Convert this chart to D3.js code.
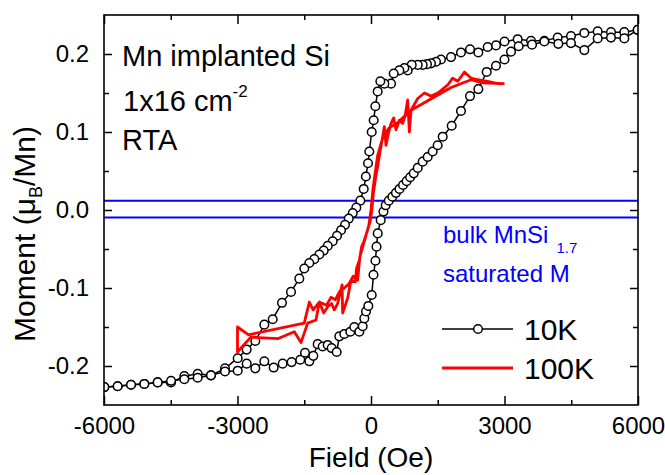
<!DOCTYPE html>
<html><head><meta charset="utf-8">
<script src="https://cdn.jsdelivr.net/npm/d3@7"></script>
<style>body{margin:0;background:#fff} text{font-family:"Liberation Sans",Arial,sans-serif}</style>
</head><body><svg id="c" width="665" height="475"></svg>
<script>
// ---- axis ticks ----
const xTickValues = [-6000, -3000, 0, 3000, 6000];
const xTickLabels = ["-6000", "-3000", "0", "3000", "6000"];
const xMinorTicks = [-4500, -1500, 1500, 4500];
const yTickValues = [-0.2, -0.1, 0, 0.1, 0.2];
const yTickLabels = ["-0.2", "-0.1", "0.0", "0.1", "0.2"];
const yMinorTicks = [-0.15, -0.05, 0.05, 0.15];

// ---- 10K loop: descending branch (field decreasing) ----
const h10Down = [5993,5693,5393,5094,4794,4494,4195,3895,3596,3296,3000,2809,2622,2412,2225,2022,1798,1573,1461,1348,1258,1161,1050,915,824,750,637,510,450,300,210,150,98,60,16,-38,-67,-115,-164,-240,-330,-410,-500,-584,-674,-764,-861,-973,-1063,-1162,-1274,-1387,-1499,-1611,-1798,-2000,-2209,-2397,-2600,-2794,-2996,-3281,-3596,-3895,-4195,-4494,-4794,-5094,-5393,-5693,-5993];
const m10Down = [0.231,0.228,0.228,0.229,0.227,0.223,0.221,0.217,0.217,0.219,0.216,0.211,0.209,0.202,0.206,0.202,0.196,0.193,0.190,0.188,0.187,0.186,0.186,0.186,0.179,0.182,0.179,0.175,0.162,0.162,0.165,0.152,0.133,0.115,0.100,0.075,0.060,0.043,0.027,0.012,0.003,-0.004,-0.011,-0.019,-0.026,-0.033,-0.040,-0.046,-0.052,-0.057,-0.063,-0.068,-0.075,-0.088,-0.105,-0.119,-0.140,-0.147,-0.168,-0.179,-0.190,-0.203,-0.212,-0.210,-0.213,-0.221,-0.221,-0.223,-0.224,-0.226,-0.227];

// ---- 10K loop: ascending branch (field increasing) ----
const h10Up = [-5993,-5693,-5393,-5094,-4794,-4494,-4195,-3895,-3596,-3281,-2996,-2794,-2600,-2397,-2187,-1985,-1784,-1589,-1483,-1386,-1296,-1198,-1086,-973,-884,-771,-712,-600,-465,-375,-262,-187,-150,-112,-60,16,56,100,124,151,218,280,330,400,480,560,640,720,800,880,960,1050,1161,1273,1386,1498,1611,1813,2022,2225,2412,2600,2809,3000,3146,3318,3618,3895,4210,4494,4794,5094,5393,5693,5993];
const m10Up = [-0.227,-0.226,-0.224,-0.223,-0.221,-0.219,-0.217,-0.215,-0.212,-0.207,-0.206,-0.197,-0.203,-0.194,-0.202,-0.197,-0.195,-0.192,-0.183,-0.194,-0.187,-0.172,-0.175,-0.173,-0.177,-0.182,-0.162,-0.159,-0.156,-0.150,-0.156,-0.149,-0.139,-0.130,-0.123,-0.109,-0.083,-0.065,-0.047,-0.030,-0.013,-0.002,0.006,0.012,0.017,0.022,0.027,0.032,0.037,0.042,0.047,0.054,0.062,0.068,0.075,0.083,0.094,0.108,0.127,0.146,0.155,0.177,0.185,0.193,0.203,0.210,0.212,0.216,0.213,0.214,0.205,0.220,0.221,0.220,0.231];

// ---- 100K curve (single trace) ----
const h100 = [3000,2850,2620,2400,2250,2100,1950,1835,1720,1500,1350,1200,1050,900,862,824,764,712,637,562,510,450,390,337,300,263,210,150,100,50,20,-20,-100,-164,-211,-259,-326,-353,-450,-524,-637,-650,-750,-824,-884,-973,-1063,-1161,-1236,-1423,-1573,-1723,-2097,-2700,-3000,-3000,-2750,-1500,-1386,-1300,-1161,-1000,-900,-800,-700,-600,-500,-400,-300,-250,-150,-50,0,50,150,250,400,600,899,1800,2250,2500,3000];
const m100 = [0.162,0.162,0.165,0.167,0.169,0.177,0.165,0.169,0.160,0.150,0.146,0.150,0.143,0.128,0.100,0.141,0.120,0.111,0.115,0.103,0.118,0.111,0.098,0.083,0.107,0.094,0.077,0.056,0.040,0.020,0.000,-0.015,-0.030,-0.041,-0.047,-0.064,-0.075,-0.092,-0.090,-0.113,-0.132,-0.096,-0.120,-0.128,-0.120,-0.124,-0.132,-0.118,-0.141,-0.145,-0.170,-0.156,-0.165,-0.163,-0.182,-0.150,-0.160,-0.145,-0.118,-0.128,-0.118,-0.122,-0.112,-0.115,-0.104,-0.100,-0.095,-0.085,-0.090,-0.060,-0.040,-0.020,0.000,0.030,0.070,0.090,0.105,0.112,0.128,0.157,0.167,0.163,0.162];

// ---- reference lines (bulk MnSi1.7 saturated M) ----
const refLines = [0.012, -0.0095];

// ---- legend ----
const legendLabels = ["10K", "100K"];

const svg = d3.select("#c");
const L = 104, R = 638, T = 15, B = 405;
const x = d3.scaleLinear().domain([-6000, 6000]).range([L, R]);
const y = d3.scaleLinear().domain([-0.25, 0.25]).range([B, T]);

svg.append("defs").append("clipPath").attr("id", "clip")
  .append("rect").attr("x", L).attr("y", T).attr("width", R - L).attr("height", B - T);

const plot = svg.append("g").attr("clip-path", "url(#clip)");

// blue reference lines
plot.selectAll("line.ref").data(refLines).enter().append("line")
  .attr("x1", L).attr("x2", R).attr("y1", d => y(d)).attr("y2", d => y(d))
  .attr("stroke", "#0000ff").attr("stroke-width", 2);

// 10K
const line = d3.line().x(d => x(d[0])).y(d => y(d[1]));
const down = h10Down.map((h, i) => [h, m10Down[i]]);
const up = h10Up.map((h, i) => [h, m10Up[i]]);
[down, up].forEach(br => {
  plot.append("path").datum(br).attr("d", line).attr("fill", "none")
    .attr("stroke", "#000").attr("stroke-width", 1.5);
});
[down, up].forEach(br => {
  plot.selectAll(null).data(br).enter().append("circle")
    .attr("cx", d => x(d[0])).attr("cy", d => y(d[1])).attr("r", 4.3)
    .attr("fill", "#fff").attr("stroke", "#000").attr("stroke-width", 1.5);
});

// 100K
const red = h100.map((h, i) => [h, m100[i]]);
plot.append("path").datum(red).attr("d", line).attr("fill", "none")
  .attr("stroke", "#ff0000").attr("stroke-width", 2.8).attr("stroke-linejoin", "round");

// frame
svg.append("rect").attr("x", L).attr("y", T).attr("width", R - L).attr("height", B - T)
  .attr("fill", "none").attr("stroke", "#000").attr("stroke-width", 1.6);

// axes
function styleAxis(g) {
  g.select(".domain").remove();
  g.selectAll(".tick line").attr("stroke", "#000").attr("stroke-width", 1.5);
  g.selectAll("text").attr("fill", "#000").style("font-size", "24px")
    .style("font-family", "'Liberation Sans', Arial, sans-serif");
}
svg.append("g").attr("transform", `translate(0,${B})`)
  .call(d3.axisBottom(x).tickValues(xTickValues).tickSize(-9).tickSizeOuter(0).tickPadding(12)
    .tickFormat((d, i) => xTickLabels[i])).call(styleAxis);
svg.append("g").attr("transform", `translate(0,${B})`)
  .call(d3.axisBottom(x).tickValues(xMinorTicks).tickSize(-5).tickSizeOuter(0).tickFormat("")).call(styleAxis);
svg.append("g").attr("transform", `translate(0,${T})`)
  .call(d3.axisTop(x).tickValues(xTickValues).tickSize(-9).tickSizeOuter(0).tickFormat("")).call(styleAxis);
svg.append("g").attr("transform", `translate(0,${T})`)
  .call(d3.axisTop(x).tickValues(xMinorTicks).tickSize(-5).tickSizeOuter(0).tickFormat("")).call(styleAxis);
svg.append("g").attr("transform", `translate(${L},0)`)
  .call(d3.axisLeft(y).tickValues(yTickValues).tickSize(-8).tickSizeOuter(0).tickPadding(15)
    .tickFormat((d, i) => yTickLabels[i])).call(styleAxis);
svg.append("g").attr("transform", `translate(${L},0)`)
  .call(d3.axisLeft(y).tickValues(yMinorTicks).tickSize(-5).tickSizeOuter(0).tickFormat("")).call(styleAxis);
svg.append("g").attr("transform", `translate(${R},0)`)
  .call(d3.axisRight(y).tickValues(yTickValues).tickSize(-8).tickSizeOuter(0).tickFormat("")).call(styleAxis);
svg.append("g").attr("transform", `translate(${R},0)`)
  .call(d3.axisRight(y).tickValues(yMinorTicks).tickSize(-5).tickSizeOuter(0).tickFormat("")).call(styleAxis);

// axis titles
svg.append("text").attr("x", (L + R) / 2).attr("y", 467).attr("text-anchor", "middle")
  .style("font-size", "28px").text("Field (Oe)");
const yt = svg.append("text").attr("transform", "translate(35,234) rotate(-90)")
  .attr("text-anchor", "middle").style("font-size", "30px");
yt.append("tspan").text("Moment (μ");
yt.append("tspan").attr("dy", 7).style("font-size", "18px").text("B");
yt.append("tspan").attr("dy", -7).text("/Mn)");

// annotations
svg.append("text").attr("x", 122).attr("y", 66).style("font-size", "29px").text("Mn implanted Si");
const t2 = svg.append("text").attr("x", 123).attr("y", 111).style("font-size", "29px");
t2.append("tspan").text("1x16 cm");
t2.append("tspan").attr("dy", -14).style("font-size", "17px").text("-2");
svg.append("text").attr("x", 122).attr("y", 150).style("font-size", "29px").text("RTA");

const b1 = svg.append("text").attr("x", 443).attr("y", 243).attr("fill", "#0000ff").style("font-size", "24px");
b1.append("tspan").text("bulk MnSi");
b1.append("tspan").attr("dx", 8).attr("dy", 10).style("font-size", "15px").text("1.7");
svg.append("text").attr("x", 443).attr("y", 282).attr("fill", "#0000ff").style("font-size", "24px").text("saturated M");

// legend
const lg = svg.append("g");
const legY = [329, 368];
lg.append("line").attr("x1", 442).attr("x2", 513).attr("y1", legY[0]).attr("y2", legY[0])
  .attr("stroke", "#000").attr("stroke-width", 1.5);
lg.append("circle").attr("cx", 478).attr("cy", legY[0]).attr("r", 4.3)
  .attr("fill", "#fff").attr("stroke", "#000").attr("stroke-width", 1.5);
lg.append("line").attr("x1", 442).attr("x2", 513).attr("y1", legY[1]).attr("y2", legY[1])
  .attr("stroke", "#ff0000").attr("stroke-width", 2.8);
lg.selectAll("text").data(legendLabels).enter().append("text")
  .attr("x", 524).attr("y", (d, i) => legY[i] + 11).style("font-size", "30px").text(d => d);
</script></body></html>
